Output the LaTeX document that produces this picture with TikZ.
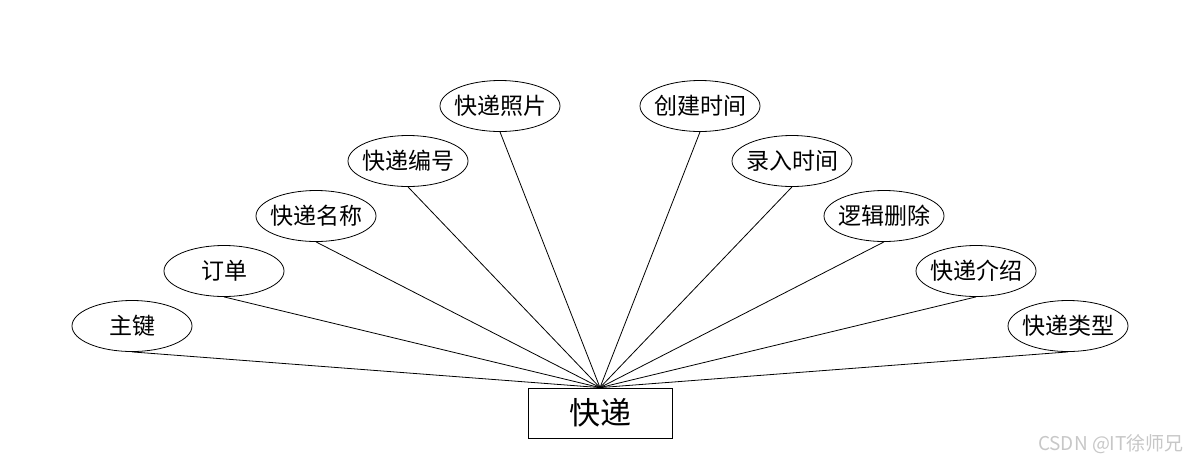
\documentclass[tikz,border=0pt]{standalone}
\usepackage{fontspec}
\setmainfont{Noto Sans CJK SC}
\usepackage{tikz}
\usetikzlibrary{shapes.geometric}

\tikzset{
  attr/.style={draw, ellipse, minimum width=60pt, minimum height=25.5pt, inner xsep=-1.8pt, inner ysep=0pt,
    font=\fontsize{11.5}{13}\selectfont},
  entity/.style={draw, rectangle, minimum width=72pt, minimum height=25pt, inner sep=0pt,
    font=\fontsize{15.5}{17}\selectfont}
}

\begin{document}
\begin{tikzpicture}[x=0.5pt,y=-0.5pt]
    \useasboundingbox (0,0) rectangle (1200,468);
    \node[entity] (E) at (600,413) {快递};
    \node[attr] (A1) at (132,326) {主键};
    \node[attr] (A2) at (224,271) {订单};
    \node[attr] (A3) at (316,216) {快递名称};
    \node[attr] (A4) at (408,161) {快递编号};
    \node[attr] (A5) at (500,106) {快递照片};
    \node[attr] (A6) at (700,106) {创建时间};
    \node[attr] (A7) at (792,161) {录入时间};
    \node[attr] (A8) at (884,216) {逻辑删除};
    \node[attr] (A9) at (976,271) {快递介绍};
    \node[attr] (A10) at (1068,326) {快递类型};
    \foreach \i in {1,...,10}
        \draw[line width=0.4pt] (A\i.south) -- (E.north);
    \node[text=black!22, font=\fontsize{9.5}{11}\selectfont, anchor=east] (W) at (1191,444) {CSDN @IT徐师兄};
\end{tikzpicture}
\end{document}
